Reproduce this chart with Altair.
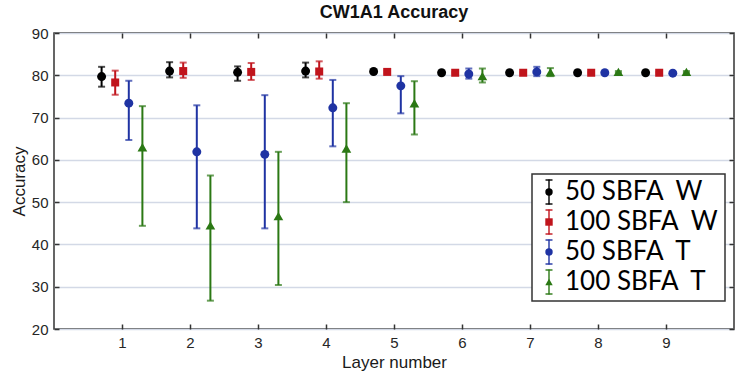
import altair as alt
import pandas as pd

layers = [1, 2, 3, 4, 5, 6, 7, 8, 9]
y_ticks = [20, 30, 40, 50, 60, 70, 80, 90]

series_names = ["50 SBFA\u00a0\u00a0W", "100 SBFA\u00a0\u00a0W", "50 SBFA\u00a0\u00a0T", "100 SBFA\u00a0\u00a0T"]
series_colors = ["#000000", "#c0141c", "#1f33a3", "#2b7814"]
series_shapes = ["circle", "square", "circle", "triangle-up"]

w50_mean = [79.7, 81.0, 80.7, 81.0, 80.9, 80.6, 80.6, 80.6, 80.6]
w50_lo = [77.3, 79.5, 78.7, 79.5, 80.6, 80.4, 80.4, 80.4, 80.4]
w50_hi = [82.0, 83.1, 82.1, 83.0, 81.2, 80.8, 80.8, 80.8, 80.8]

w100_mean = [78.3, 81.0, 80.8, 80.9, 80.8, 80.6, 80.6, 80.6, 80.6]
w100_lo = [75.4, 79.4, 78.9, 79.2, 80.5, 80.4, 80.4, 80.4, 80.4]
w100_hi = [81.1, 83.0, 82.9, 83.3, 81.1, 80.8, 80.8, 80.8, 80.8]

t50_mean = [73.4, 61.9, 61.3, 72.3, 77.5, 80.3, 80.8, 80.6, 80.5]
t50_lo = [64.7, 43.8, 43.8, 63.2, 71.0, 79.2, 79.8, 80.4, 80.3]
t50_hi = [78.7, 72.9, 75.3, 78.9, 79.8, 81.6, 82.0, 80.8, 80.7]

t100_mean = [63.0, 44.5, 46.7, 62.7, 73.4, 79.8, 80.7, 80.8, 80.8]
t100_lo = [44.4, 26.7, 30.4, 50.0, 66.0, 78.3, 79.8, 80.6, 80.6]
t100_hi = [72.7, 56.3, 61.9, 73.4, 78.6, 81.6, 81.7, 81.0, 81.0]

all_series = [
    (w50_mean, w50_lo, w50_hi),
    (w100_mean, w100_lo, w100_hi),
    (t50_mean, t50_lo, t50_hi),
    (t100_mean, t100_lo, t100_hi),
]

rows = []
for k, (name, (means, los, his)) in enumerate(zip(series_names, all_series)):
    for layer, m, lo, hi in zip(layers, means, los, his):
        rows.append({"series": name, "k": k, "layer": layer, "mean": m, "lo": lo, "hi": hi})
df = pd.DataFrame(rows)
legend_df = pd.DataFrame({"series": series_names})

FONT = "Liberation Sans"
x_scale = alt.Scale(domain=[0, 10], nice=False, zero=False)
y_scale = alt.Scale(domain=[20, 90], nice=False, zero=False)

x_axis = alt.Axis(values=layers, title="Layer number", offset=-5, tickSize=5, domain=False,
                  grid=False, labelPadding=6, titlePadding=4, labelFontSize=15,
                  titleFontSize=17, labelFont=FONT, titleFont=FONT, labelColor="#262626",
                  titleColor="#1a1a1a", titleFontWeight="normal", tickColor="#333333",
                  tickWidth=1.5, labelFlush=False)
y_axis = alt.Axis(values=y_ticks, title="Accuracy", offset=-5, tickSize=5, domain=False,
                  grid=True, gridColor="#d3d9e6", gridWidth=1.5, labelPadding=6,
                  titlePadding=3, labelFontSize=15, titleFontSize=17, labelFont=FONT,
                  titleFont=FONT, labelColor="#262626", titleColor="#1a1a1a",
                  titleFontWeight="normal", tickColor="#333333", tickWidth=1.5,
                  labelFlush=False)

color_scale = alt.Scale(domain=series_names, range=series_colors)
color = alt.Color("series:N", scale=color_scale, legend=None)

base = alt.Chart(df).transform_calculate(xpos="datum.layer + (datum.k - 1.5) * 0.2")
X = alt.X("xpos:Q", scale=x_scale, axis=x_axis)

bars = base.mark_rule(strokeWidth=2).encode(
    x=X,
    y=alt.Y("lo:Q", scale=y_scale, axis=y_axis),
    y2="hi:Q",
    color=color,
)

caps = base.transform_fold(["lo", "hi"], as_=["end", "val"]).mark_tick(
    orient="horizontal", size=7, thickness=2
).encode(
    x=X,
    y=alt.Y("val:Q", scale=y_scale, axis=y_axis),
    color=color,
)

circles = base.transform_filter(
    alt.FieldOneOfPredicate(field="k", oneOf=[0, 2])
).mark_circle(size=80, opacity=1).encode(
    x=X, y=alt.Y("mean:Q", scale=y_scale, axis=y_axis), color=color
)

squares = base.transform_filter("datum.k == 1").mark_square(size=64, opacity=1).encode(
    x=X, y=alt.Y("mean:Q", scale=y_scale, axis=y_axis), color=color
)

triangles = base.transform_filter("datum.k == 3").mark_point(
    shape="triangle-up", filled=True, size=95, opacity=1
).encode(
    x=X, y=alt.Y("mean:Q", scale=y_scale, axis=y_axis), color=color
)

main = alt.layer(bars, caps, circles, squares, triangles)

mirror = base.mark_point(opacity=0).encode(
    x=alt.X("xpos:Q", scale=x_scale,
            axis=alt.Axis(orient="top", values=layers, labels=False, title=None, offset=-5,
                          tickSize=5, domain=False, grid=False, tickColor="#333333", tickWidth=1.5)),
    y=alt.Y("mean:Q", scale=y_scale,
            axis=alt.Axis(orient="right", values=y_ticks, labels=False, title=None, offset=-5,
                          tickSize=5, domain=False, grid=False, tickColor="#333333", tickWidth=1.5)),
)

# ---- legend box (drawn as a guide layer) ----
leg_y = alt.Y("series:N", scale=alt.Scale(type="point", domain=series_names, range=[159, 249], padding=0),
              axis=None)
leg_base = alt.Chart(legend_df)

leg_box = alt.Chart(pd.DataFrame({"box": [0]})).mark_rect(
    fill="#ffffff", stroke="#333333", strokeWidth=1.5
).encode(x=alt.value(478), x2=alt.value(671), y=alt.value(141), y2=alt.value(268))

leg_bar = leg_base.mark_tick(orient="vertical", size=25, thickness=2).encode(
    x=alt.value(495), y=leg_y, color=color
)
leg_cap_top = leg_base.mark_tick(orient="horizontal", size=7, thickness=2, yOffset=-12).encode(
    x=alt.value(495), y=leg_y, color=color
)
leg_cap_bot = leg_base.mark_tick(orient="horizontal", size=7, thickness=2, yOffset=12).encode(
    x=alt.value(495), y=leg_y, color=color
)
leg_marker = leg_base.mark_point(filled=True, opacity=1, size=55).encode(
    x=alt.value(495), y=leg_y, color=color,
    shape=alt.Shape("series:N", scale=alt.Scale(domain=series_names, range=series_shapes), legend=None),
)
leg_text = leg_base.mark_text(align="left", baseline="middle", font="Lato", fontSize=26,
                              color="#000000").encode(
    x=alt.value(511), y=leg_y, text="series:N"
)

legend_part = alt.layer(leg_box, leg_bar, leg_cap_top, leg_cap_bot, leg_marker, leg_text)

chart = alt.layer(main, mirror, legend_part).resolve_scale(
    y="independent"
).resolve_axis(x="independent", y="independent").properties(
    width=680,
    height=296,
    title=alt.TitleParams("CW1A1 Accuracy", fontSize=18, font=FONT, fontWeight="bold",
                          anchor="middle", offset=4, color="#111111"),
    autosize=alt.AutoSizeParams(type="none"),
    padding={"left": 54, "top": 33, "right": 1, "bottom": 45},
).configure_view(
    stroke="#333333", strokeWidth=1.5
)

chart.save("out.html", embed_options={"renderer": "svg", "actions": False})
